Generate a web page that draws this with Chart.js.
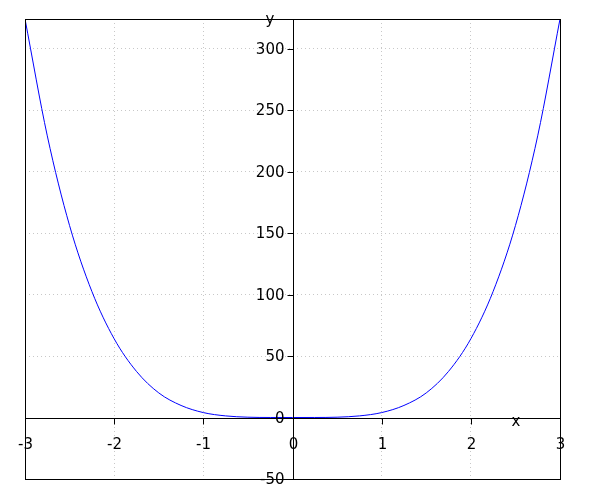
<!DOCTYPE html>
<html lang="en">
<head>
  <meta charset="utf-8">
  <title>y = f(x)</title>
  <script src="https://cdn.jsdelivr.net/npm/chart.js"></script>
  <style>
    html, body { margin: 0; padding: 0; background: #fff; }
  </style>
</head>
<body>
<canvas id="curveChart" width="600" height="500"></canvas>

<script>
  // values
  const xValues = [-3, -2.75, -2.5, -2.25, -2, -1.75, -1.5, -1.25, -1, -0.75, -0.5, -0.25, 0,
                   0.25, 0.5, 0.75, 1, 1.25, 1.5, 1.75, 2, 2.25, 2.5, 2.75, 3];
  const yValues = [324, 229, 156, 102.5, 64, 37.5, 20, 9.8, 4, 1.3, 0.25, 0.02, 0,
                   0.02, 0.25, 1.3, 4, 9.8, 20, 37.5, 64, 102.5, 156, 229, 324];
  const xTicks = [-3, -2, -1, 0, 1, 2, 3];
  const yTicks = [-50, 0, 50, 100, 150, 200, 250, 300];
  const xRange = [-3, 3];
  const yRange = [-50, 324];

  const FONT = '15px "DejaVu Sans", sans-serif';

  // axes through the origin, framed plot, labels beside the axes
  const originAxes = {
    id: 'originAxes',
    afterDraw(chart) {
      const ctx = chart.ctx;
      const area = chart.chartArea;
      const xs = chart.scales.x, ys = chart.scales.y;
      const px = v => Math.round(xs.getPixelForValue(v)) + 0.5;
      const py = v => Math.round(ys.getPixelForValue(v)) + 0.5;
      const x0 = px(0), y0 = py(0);

      ctx.save();
      ctx.strokeStyle = '#000';
      ctx.lineWidth = 1;
      ctx.strokeRect(Math.round(area.left) + 0.5, Math.round(area.top) + 0.5,
                     Math.round(area.right - area.left), Math.round(area.bottom - area.top));

      ctx.beginPath();
      ctx.moveTo(area.left, y0); ctx.lineTo(area.right, y0);
      ctx.moveTo(x0, area.top); ctx.lineTo(x0, area.bottom);
      xTicks.forEach(v => { ctx.moveTo(px(v), y0); ctx.lineTo(px(v), y0 + 6); });
      yTicks.forEach(v => { ctx.moveTo(x0, py(v)); ctx.lineTo(x0 - 6, py(v)); });
      ctx.stroke();

      ctx.fillStyle = '#000';
      ctx.font = FONT;
      ctx.textAlign = 'center';
      ctx.textBaseline = 'middle';
      xTicks.forEach(v => ctx.fillText(String(v), px(v), y0 + 27));
      ctx.textAlign = 'right';
      yTicks.forEach(v => ctx.fillText(String(v), x0 - 9, py(v) + 1));

      ctx.textAlign = 'center';
      ctx.fillText('x', 516, y0 + 4);
      ctx.fillText('y', 270, 20);
      ctx.restore();
    }
  };

  const dotted = {
    color: ctx => (ctx.tick && (ctx.tick.value === 0)) ? 'rgba(0,0,0,0)' : '#c8c8c8',
    lineWidth: 1,
    drawTicks: false
  };

  new Chart(document.getElementById('curveChart'), {
    type: 'scatter',
    data: {
      datasets: [{
        data: xValues.map((x, i) => ({ x: x, y: yValues[i] })),
        showLine: true,
        borderColor: '#0000ff',
        borderWidth: 1,
        pointRadius: 0,
        cubicInterpolationMode: 'monotone',
        fill: false
      }]
    },
    options: {
      responsive: false,
      animation: false,
      layout: { padding: { left: 25, right: 40, top: 19, bottom: 21 } },
      plugins: { legend: { display: false }, tooltip: { enabled: false } },
      scales: {
        x: {
          type: 'linear',
          min: xRange[0], max: xRange[1],
          afterBuildTicks: s => { s.ticks = xTicks.map(v => ({ value: v })); },
          ticks: { display: false },
          border: { display: false, dash: [1, 3] },
          grid: dotted
        },
        y: {
          type: 'linear',
          min: yRange[0], max: yRange[1],
          afterBuildTicks: s => { s.ticks = yTicks.map(v => ({ value: v })); },
          ticks: { display: false },
          border: { display: false, dash: [1, 3] },
          grid: dotted
        }
      }
    },
    plugins: [originAxes]
  });
</script>
</body>
</html>
